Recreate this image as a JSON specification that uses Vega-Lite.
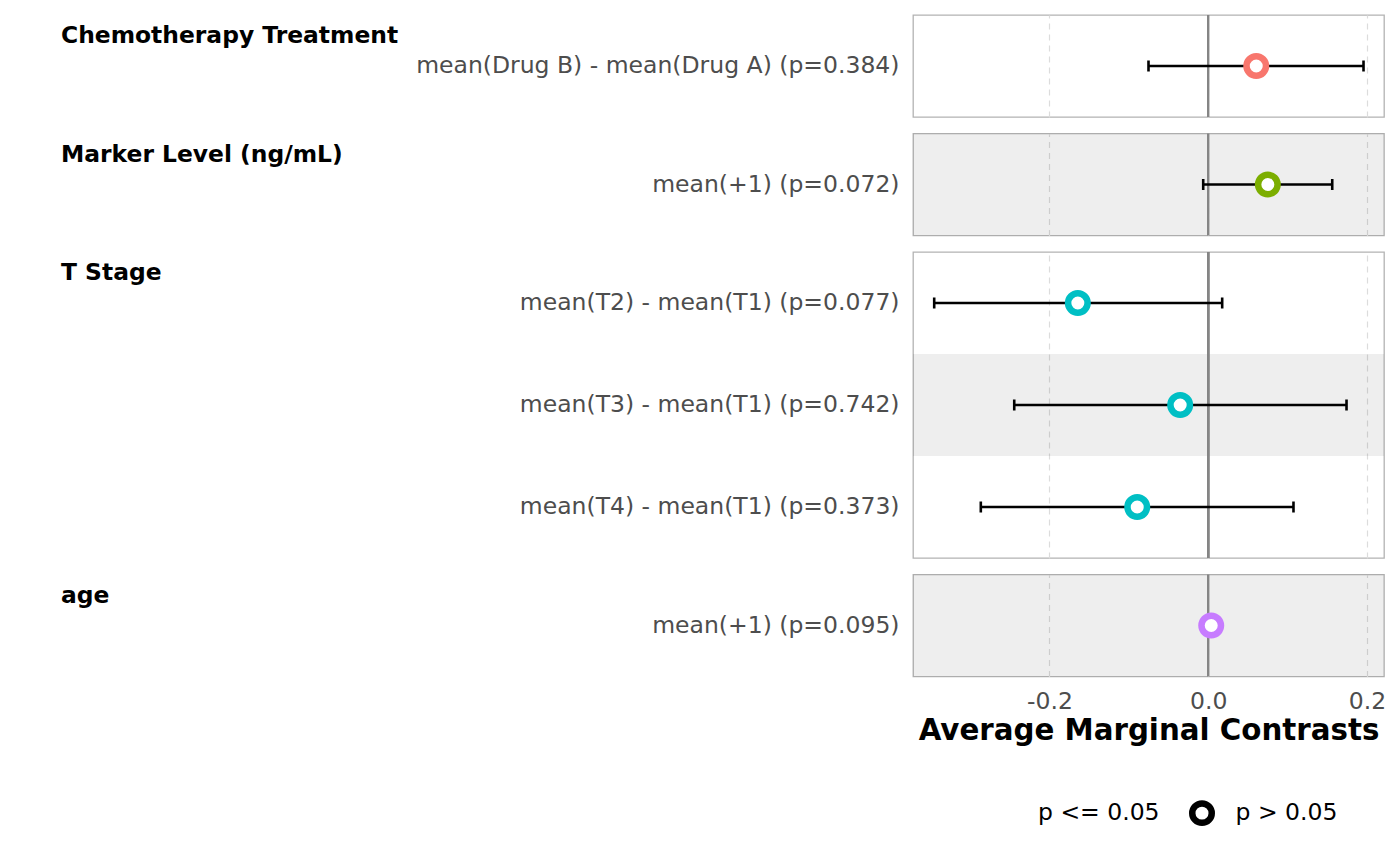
{
  "$schema": "https://vega.github.io/schema/vega-lite/v6.json",
  "background": "white",
  "padding": {"left": 59, "top": 13, "right": 15, "bottom": 5},
  "data": {
    "values": [
      {"group": "Chemotherapy Treatment", "label": "mean(Drug B) - mean(Drug A) (p=0.384)", "row": 1, "estimate": 0.0605, "lo": -0.0752, "hi": 0.1956, "sig": "p > 0.05"},
      {"group": "Marker Level (ng/mL)", "label": "mean(+1) (p=0.072)", "row": 2, "estimate": 0.0751, "lo": -0.0063, "hi": 0.1562, "sig": "p > 0.05"},
      {"group": "T Stage", "label": "mean(T2) - mean(T1) (p=0.077)", "row": 3, "estimate": -0.1642, "lo": -0.3451, "hi": 0.0176, "sig": "p > 0.05"},
      {"group": "T Stage", "label": "mean(T3) - mean(T1) (p=0.742)", "row": 4, "estimate": -0.0353, "lo": -0.2443, "hi": 0.1742, "sig": "p > 0.05"},
      {"group": "T Stage", "label": "mean(T4) - mean(T1) (p=0.373)", "row": 5, "estimate": -0.0894, "lo": -0.2864, "hi": 0.1074, "sig": "p > 0.05"},
      {"group": "age", "label": "mean(+1) (p=0.095)", "row": 6, "estimate": 0.0038, "lo": 0.0018, "hi": 0.0058, "sig": "p > 0.05"}
    ]
  },
  "spacing": 12.5,
  "vconcat": [
    {
      "width": 471,
      "height": 102,
      "transform": [{"filter": {"field": "group", "equal": "Chemotherapy Treatment"}}],
      "layer": [
        {
          "transform": [{"filter": "datum.row % 2 == 0"}],
          "mark": {"type": "rect", "fill": "#000000", "fillOpacity": 0.067},
          "encoding": {"y": {"field": "label", "type": "nominal", "sort": null, "scale": {"paddingInner": 0, "paddingOuter": 0}}}
        },
        {
          "mark": {"type": "rule", "color": "#858585", "strokeWidth": 2.4},
          "encoding": {"x": {"datum": 0, "type": "quantitative", "scale": {"domain": [-0.3718, 0.2214]}}}
        },
        {
          "mark": {"type": "rule", "color": "black", "strokeWidth": 2.6},
          "encoding": {
            "x": {"field": "lo", "type": "quantitative", "scale": {"domain": [-0.3718, 0.2214]}},
            "x2": {"field": "hi"},
            "y": {"field": "label", "type": "nominal", "sort": null, "scale": {"paddingInner": 0, "paddingOuter": 0}}
          }
        },
        {
          "mark": {"type": "tick", "color": "black", "thickness": 2.6, "size": 11, "opacity": 1},
          "encoding": {
            "x": {"field": "lo", "type": "quantitative", "scale": {"domain": [-0.3718, 0.2214]}},
            "y": {"field": "label", "type": "nominal", "sort": null, "scale": {"paddingInner": 0, "paddingOuter": 0}}
          }
        },
        {
          "mark": {"type": "tick", "color": "black", "thickness": 2.6, "size": 11, "opacity": 1},
          "encoding": {
            "x": {"field": "hi", "type": "quantitative", "scale": {"domain": [-0.3718, 0.2214]}},
            "y": {"field": "label", "type": "nominal", "sort": null, "scale": {"paddingInner": 0, "paddingOuter": 0}}
          }
        },
        {
          "mark": {"type": "point", "shape": "circle", "filled": false, "fill": "white", "fillOpacity": 1, "opacity": 1, "size": 380, "strokeWidth": 6.5},
          "encoding": {
            "x": {"field": "estimate", "type": "quantitative", "scale": {"domain": [-0.3718, 0.2214]}, "axis": {"labels": false, "title": null, "values": [-0.2, 0, 0.2]}},
            "y": {"field": "label", "type": "nominal", "sort": null, "scale": {"paddingInner": 0, "paddingOuter": 0}, "axis": {"title": "Chemotherapy Treatment"}},
            "stroke": {"field": "group", "type": "nominal", "legend": null, "scale": {"domain": ["Chemotherapy Treatment", "Marker Level (ng/mL)", "T Stage", "age"], "range": ["#F8766D", "#7CAE00", "#00BFC4", "#C77CFF"]}}
          }
        }
      ]
    },
    {
      "width": 471,
      "height": 102,
      "transform": [{"filter": {"field": "group", "equal": "Marker Level (ng/mL)"}}],
      "layer": [
        {
          "transform": [{"filter": "datum.row % 2 == 0"}],
          "mark": {"type": "rect", "fill": "#000000", "fillOpacity": 0.067},
          "encoding": {"y": {"field": "label", "type": "nominal", "sort": null, "scale": {"paddingInner": 0, "paddingOuter": 0}}}
        },
        {
          "mark": {"type": "rule", "color": "#858585", "strokeWidth": 2.4},
          "encoding": {"x": {"datum": 0, "type": "quantitative", "scale": {"domain": [-0.3718, 0.2214]}}}
        },
        {
          "mark": {"type": "rule", "color": "black", "strokeWidth": 2.6},
          "encoding": {
            "x": {"field": "lo", "type": "quantitative", "scale": {"domain": [-0.3718, 0.2214]}},
            "x2": {"field": "hi"},
            "y": {"field": "label", "type": "nominal", "sort": null, "scale": {"paddingInner": 0, "paddingOuter": 0}}
          }
        },
        {
          "mark": {"type": "tick", "color": "black", "thickness": 2.6, "size": 11, "opacity": 1},
          "encoding": {
            "x": {"field": "lo", "type": "quantitative", "scale": {"domain": [-0.3718, 0.2214]}},
            "y": {"field": "label", "type": "nominal", "sort": null, "scale": {"paddingInner": 0, "paddingOuter": 0}}
          }
        },
        {
          "mark": {"type": "tick", "color": "black", "thickness": 2.6, "size": 11, "opacity": 1},
          "encoding": {
            "x": {"field": "hi", "type": "quantitative", "scale": {"domain": [-0.3718, 0.2214]}},
            "y": {"field": "label", "type": "nominal", "sort": null, "scale": {"paddingInner": 0, "paddingOuter": 0}}
          }
        },
        {
          "mark": {"type": "point", "shape": "circle", "filled": false, "fill": "white", "fillOpacity": 1, "opacity": 1, "size": 380, "strokeWidth": 6.5},
          "encoding": {
            "x": {"field": "estimate", "type": "quantitative", "scale": {"domain": [-0.3718, 0.2214]}, "axis": {"labels": false, "title": null, "values": [-0.2, 0, 0.2]}},
            "y": {"field": "label", "type": "nominal", "sort": null, "scale": {"paddingInner": 0, "paddingOuter": 0}, "axis": {"title": "Marker Level (ng/mL)"}},
            "stroke": {"field": "group", "type": "nominal", "legend": null, "scale": {"domain": ["Chemotherapy Treatment", "Marker Level (ng/mL)", "T Stage", "age"], "range": ["#F8766D", "#7CAE00", "#00BFC4", "#C77CFF"]}}
          }
        }
      ]
    },
    {
      "width": 471,
      "height": 306,
      "transform": [{"filter": {"field": "group", "equal": "T Stage"}}],
      "layer": [
        {
          "transform": [{"filter": "datum.row % 2 == 0"}],
          "mark": {"type": "rect", "fill": "#000000", "fillOpacity": 0.067},
          "encoding": {"y": {"field": "label", "type": "nominal", "scale": {"domain": ["mean(T2) - mean(T1) (p=0.077)", "mean(T3) - mean(T1) (p=0.742)", "mean(T4) - mean(T1) (p=0.373)"], "paddingInner": 0, "paddingOuter": 0}}}
        },
        {
          "mark": {"type": "rule", "color": "#858585", "strokeWidth": 2.4},
          "encoding": {"x": {"datum": 0, "type": "quantitative", "scale": {"domain": [-0.3718, 0.2214]}}}
        },
        {
          "mark": {"type": "rule", "color": "black", "strokeWidth": 2.6},
          "encoding": {
            "x": {"field": "lo", "type": "quantitative", "scale": {"domain": [-0.3718, 0.2214]}},
            "x2": {"field": "hi"},
            "y": {"field": "label", "type": "nominal", "scale": {"domain": ["mean(T2) - mean(T1) (p=0.077)", "mean(T3) - mean(T1) (p=0.742)", "mean(T4) - mean(T1) (p=0.373)"], "paddingInner": 0, "paddingOuter": 0}}
          }
        },
        {
          "mark": {"type": "tick", "color": "black", "thickness": 2.6, "size": 11, "opacity": 1},
          "encoding": {
            "x": {"field": "lo", "type": "quantitative", "scale": {"domain": [-0.3718, 0.2214]}},
            "y": {"field": "label", "type": "nominal", "scale": {"domain": ["mean(T2) - mean(T1) (p=0.077)", "mean(T3) - mean(T1) (p=0.742)", "mean(T4) - mean(T1) (p=0.373)"], "paddingInner": 0, "paddingOuter": 0}}
          }
        },
        {
          "mark": {"type": "tick", "color": "black", "thickness": 2.6, "size": 11, "opacity": 1},
          "encoding": {
            "x": {"field": "hi", "type": "quantitative", "scale": {"domain": [-0.3718, 0.2214]}},
            "y": {"field": "label", "type": "nominal", "scale": {"domain": ["mean(T2) - mean(T1) (p=0.077)", "mean(T3) - mean(T1) (p=0.742)", "mean(T4) - mean(T1) (p=0.373)"], "paddingInner": 0, "paddingOuter": 0}}
          }
        },
        {
          "mark": {"type": "point", "shape": "circle", "filled": false, "fill": "white", "fillOpacity": 1, "opacity": 1, "size": 380, "strokeWidth": 6.5},
          "encoding": {
            "x": {"field": "estimate", "type": "quantitative", "scale": {"domain": [-0.3718, 0.2214]}, "axis": {"labels": false, "title": null, "values": [-0.2, 0, 0.2]}},
            "y": {"field": "label", "type": "nominal", "scale": {"domain": ["mean(T2) - mean(T1) (p=0.077)", "mean(T3) - mean(T1) (p=0.742)", "mean(T4) - mean(T1) (p=0.373)"], "paddingInner": 0, "paddingOuter": 0}, "axis": {"title": "T Stage"}},
            "stroke": {"field": "group", "type": "nominal", "legend": null, "scale": {"domain": ["Chemotherapy Treatment", "Marker Level (ng/mL)", "T Stage", "age"], "range": ["#F8766D", "#7CAE00", "#00BFC4", "#C77CFF"]}}
          }
        }
      ]
    },
    {
      "width": 471,
      "height": 102,
      "transform": [{"filter": {"field": "group", "equal": "age"}}],
      "layer": [
        {
          "transform": [{"filter": "datum.row % 2 == 0"}],
          "mark": {"type": "rect", "fill": "#000000", "fillOpacity": 0.067},
          "encoding": {"y": {"field": "label", "type": "nominal", "sort": null, "scale": {"paddingInner": 0, "paddingOuter": 0}}}
        },
        {
          "mark": {"type": "rule", "color": "#858585", "strokeWidth": 2.4},
          "encoding": {"x": {"datum": 0, "type": "quantitative", "scale": {"domain": [-0.3718, 0.2214]}}}
        },
        {
          "mark": {"type": "rule", "color": "black", "strokeWidth": 2.6},
          "encoding": {
            "x": {"field": "lo", "type": "quantitative", "scale": {"domain": [-0.3718, 0.2214]}},
            "x2": {"field": "hi"},
            "y": {"field": "label", "type": "nominal", "sort": null, "scale": {"paddingInner": 0, "paddingOuter": 0}}
          }
        },
        {
          "mark": {"type": "tick", "color": "black", "thickness": 2.6, "size": 11, "opacity": 1},
          "encoding": {
            "x": {"field": "lo", "type": "quantitative", "scale": {"domain": [-0.3718, 0.2214]}},
            "y": {"field": "label", "type": "nominal", "sort": null, "scale": {"paddingInner": 0, "paddingOuter": 0}}
          }
        },
        {
          "mark": {"type": "tick", "color": "black", "thickness": 2.6, "size": 11, "opacity": 1},
          "encoding": {
            "x": {"field": "hi", "type": "quantitative", "scale": {"domain": [-0.3718, 0.2214]}},
            "y": {"field": "label", "type": "nominal", "sort": null, "scale": {"paddingInner": 0, "paddingOuter": 0}}
          }
        },
        {
          "mark": {"type": "point", "shape": "circle", "filled": false, "fill": "white", "fillOpacity": 1, "opacity": 1, "size": 380, "strokeWidth": 6.5},
          "encoding": {
            "x": {"field": "estimate", "type": "quantitative", "scale": {"domain": [-0.3718, 0.2214]}, "axis": {"title": "Average Marginal Contrasts", "values": [-0.2, 0, 0.2], "format": ".1f", "labelExpr": "replace(datum.label, '\u2212', '-')"}},
            "y": {"field": "label", "type": "nominal", "sort": null, "scale": {"paddingInner": 0, "paddingOuter": 0}, "axis": {"title": "age"}},
            "stroke": {"field": "group", "type": "nominal", "legend": null, "scale": {"domain": ["Chemotherapy Treatment", "Marker Level (ng/mL)", "T Stage", "age"], "range": ["#F8766D", "#7CAE00", "#00BFC4", "#C77CFF"]}}
          }
        },
        {
          "transform": [{"filter": "datum.row < 0"}],
          "mark": {"type": "point", "shape": "circle", "filled": false, "fill": "white", "opacity": 1, "size": 380, "strokeWidth": 6.5},
          "encoding": {
            "x": {"field": "estimate", "type": "quantitative", "scale": {"domain": [-0.3718, 0.2214]}},
            "y": {"field": "label", "type": "nominal", "sort": null, "scale": {"paddingInner": 0, "paddingOuter": 0}},
            "color": {
              "field": "sig",
              "type": "nominal",
              "scale": {"domain": ["p <= 0.05", "p > 0.05"], "range": ["white", "black"]},
              "legend": {
                "title": null,
                "orient": "none",
                "direction": "horizontal",
                "legendX": 78.5,
                "legendY": 785,
                "padding": 0,
                "values": ["p <= 0.05", "p > 0.05"],
                "symbolType": "circle",
                "symbolSize": 380,
                "symbolStrokeWidth": 6.5,
                "symbolFillColor": "white",
                "labelOffset": 20.5,
                "columnPadding": 18.5,
                "labelFontSize": 23.5,
                "labelColor": "black",
                "labelLimit": 0
              }
            }
          }
        }
      ]
    }
  ],
  "config": {
    "font": "DejaVu Sans",
    "view": {"stroke": "#B3B3B3", "strokeWidth": 1.3},
    "axisX": {
      "domain": false,
      "ticks": false,
      "tickSize": 0,
      "grid": true,
      "gridColor": "#DCDCDC",
      "gridDash": [6, 5],
      "gridWidth": 1.2,
      "labelFontSize": 23.5,
      "labelColor": "#4D4D4D",
      "labelPadding": 13,
      "titleFontSize": 29.3,
      "titleFontWeight": "bold",
      "titleColor": "black",
      "titlePadding": 3
    },
    "axisY": {
      "domain": false,
      "ticks": false,
      "tickSize": 0,
      "grid": false,
      "labelFontSize": 23.5,
      "labelColor": "#4D4D4D",
      "labelPadding": 14,
      "labelLimit": 0,
      "titleAngle": 0,
      "titleAlign": "left",
      "titleBaseline": "alphabetic",
      "titleX": -852.5,
      "titleY": 27.5,
      "titleFontSize": 23.4,
      "titleFontWeight": "bold",
      "titleColor": "black",
      "titleLimit": 0
    }
  }
}
